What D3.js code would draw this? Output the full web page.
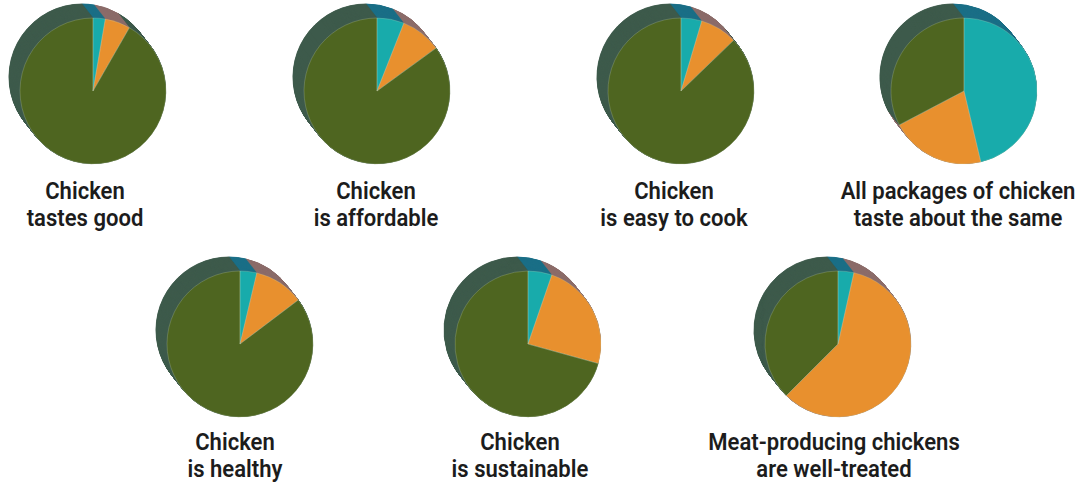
<!DOCTYPE html>
<html>
<head>
<meta charset="utf-8">
<script src="https://cdn.jsdelivr.net/npm/d3@7"></script>
<style>
  html, body { margin: 0; padding: 0; background: #ffffff; }
  svg { display: block; }
  .label { font-family: Roboto, "Open Sans", sans-serif; font-weight: 600; font-size: 24px; fill: #1c1c1c; }
</style>
</head>
<body>
<svg id="chart" width="1084" height="485"></svg>
<script>
// Survey statements, one pie each
const statements = [
  ["Chicken", "tastes good"],
  ["Chicken", "is affordable"],
  ["Chicken", "is easy to cook"],
  ["All packages of chicken", "taste about the same"],
  ["Chicken", "is healthy"],
  ["Chicken", "is sustainable"],
  ["Meat-producing chickens", "are well-treated"]
];

// Share of answers per statement (percent), slices drawn clockwise from 12 o'clock
const disagree = [2.7, 6.0, 4.6, 46.3, 3.7, 5.3, 3.5];
const unsure   = [5.6, 9.0, 8.2, 21.0, 11.0, 24.0, 59.0];
const agree    = [91.7, 85.0, 87.2, 32.7, 85.3, 70.7, 37.5];

const answerKeys = ["disagree", "unsure", "agree"];

// Layout: pie centres and label anchors
const pieX   = [93, 377, 681, 964, 240, 528, 838];
const pieY   = [91, 91, 91, 91, 344, 344, 344];
const labelX = [85, 376, 674, 958, 235, 520, 834];
const labelY = [199, 199, 199, 199, 450, 450, 450];
const lineGap = 27;
const radius = 73;
const depth = { dx: -11, dy: -14 };
const depthSteps = 40;

const faceColor = d3.scaleOrdinal().domain(answerKeys).range(["#18abab", "#e8902e", "#4e6520"]);
const sideColor = d3.scaleOrdinal().domain(answerKeys).range(["#1b6f87", "#8b6c6a", "#3e5a4b"]);

const svg = d3.select("#chart");

const pie = d3.pie().sort(null).value(d => d.value);
const arc = d3.arc().innerRadius(0).outerRadius(radius);

statements.forEach((lines, i) => {
  const data = [
    { key: "disagree", value: disagree[i] },
    { key: "unsure", value: unsure[i] },
    { key: "agree", value: agree[i] }
  ];
  const arcs = pie(data);
  const g = svg.append("g").attr("transform", `translate(${pieX[i]},${pieY[i]})`);

  // Extruded body: copies of the pie stacked from the back face to the front
  const steps = d3.range(depthSteps, 0, -1).map(s => s / depthSteps);
  steps.forEach(t => {
    const layer = g.append("g").attr("transform", `translate(${depth.dx * t},${depth.dy * t})`);
    layer.selectAll("path")
      .data(arcs)
      .join("path")
      .attr("d", arc)
      .attr("fill", d => sideColor(d.data.key))
      .attr("stroke", d => sideColor(d.data.key))
      .attr("stroke-width", 0.8);
  });

  // Front face
  g.append("g").selectAll("path")
    .data(arcs)
    .join("path")
    .attr("d", arc)
    .attr("fill", d => faceColor(d.data.key));

  // Faint highlight along the slice edges and rim
  g.append("g").selectAll("path")
    .data(arcs.filter(d => d.value > 0))
    .join("path")
    .attr("d", arc)
    .attr("fill", "none")
    .attr("stroke", "#c9d4b4")
    .attr("stroke-opacity", 0.35)
    .attr("stroke-width", 0.7);

  // Statement label, one text per line
  lines.forEach((line, j) => {
    svg.append("text")
      .attr("class", "label")
      .attr("text-anchor", "middle")
      .attr("transform", `translate(${labelX[i]},${labelY[i] + j * lineGap}) scale(0.92,1)`)
      .text(line);
  });
});
</script>
</body>
</html>
